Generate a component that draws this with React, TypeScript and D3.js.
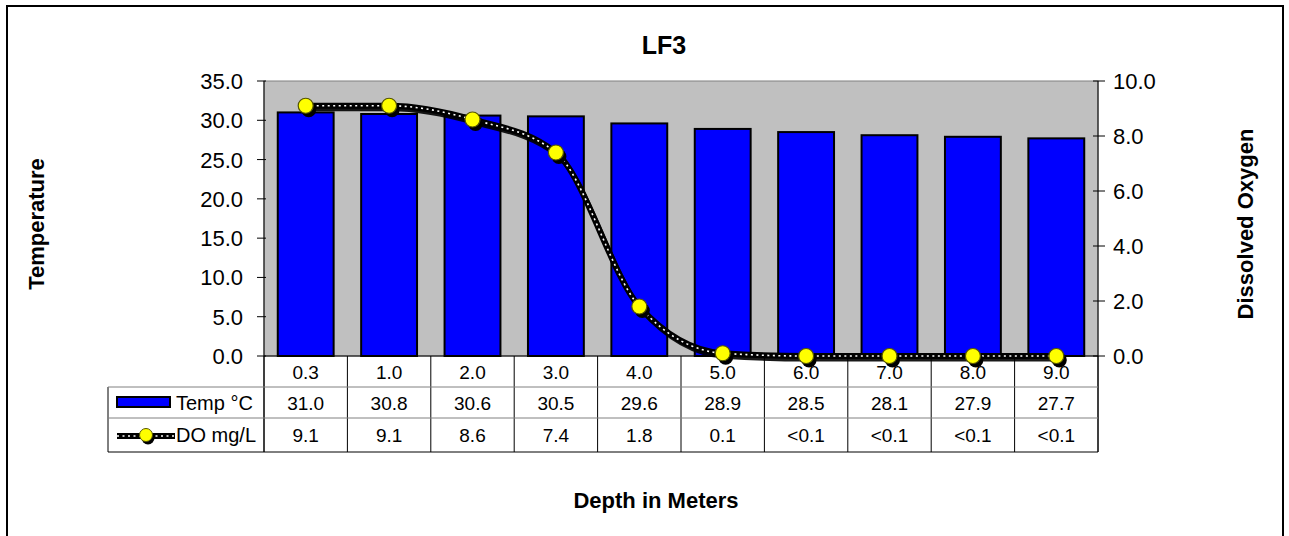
import React from "react";
import * as d3 from "d3";

const depths = ["0.3", "1.0", "2.0", "3.0", "4.0", "5.0", "6.0", "7.0", "8.0", "9.0"];
const tempValues = [31.0, 30.8, 30.6, 30.5, 29.6, 28.9, 28.5, 28.1, 27.9, 27.7];
const doValues = [9.1, 9.1, 8.6, 7.4, 1.8, 0.1, 0, 0, 0, 0];
const doLabels = ["9.1", "9.1", "8.6", "7.4", "1.8", "0.1", "<0.1", "<0.1", "<0.1", "<0.1"];
const leftTicks = [0, 5, 10, 15, 20, 25, 30, 35];
const rightTicks = [0, 2, 4, 6, 8, 10];

const W = 1289, H = 536;
const plotL = 264, plotR = 1098, plotT = 81, plotB = 356;
const row1B = 387, row2B = 418, row3B = 452, legendL = 108;
const FONT = "'Liberation Sans', Arial, sans-serif";

export default function App() {
  const x = d3.scaleBand<string>().domain(depths).range([plotL, plotR]).paddingInner(0.33).paddingOuter(0.165);
  const xc = d3.scaleBand<string>().domain(depths).range([plotL, plotR]);
  const yL = d3.scaleLinear().domain([0, 35]).range([plotB, plotT]);
  const yR = d3.scaleLinear().domain([0, 10]).range([plotB, plotT]);
  const cx = (d: string) => (xc(d) as number) + xc.bandwidth() / 2;
  const pts: [number, number][] = depths.map((d, i) => [cx(d), yR(doValues[i])]);
  const line = d3.line().curve(d3.curveMonotoneX);
  const path = line(pts) || "";
  const shadowPts: [number, number][] = pts.map(([a, b]) => [a + 2, b + 3]);
  const shadowPath = line(shadowPts) || "";
  const colEdges = depths.map((d) => xc(d) as number).concat([plotR]);
  const rowMid = (a: number, b: number) => (a + b) / 2 + 7;

  return (
    <svg width={W} height={H} style={{ position: "absolute", left: 0, top: 0, background: "#fff" }} fontFamily={FONT}>
      <rect x={7} y={6} width={1276} height={540} fill="#fff" stroke="#000" strokeWidth={2} />
      <text x={664} y={54} textAnchor="middle" fontSize={25} fontWeight="bold">LF3</text>

      {/* plot area */}
      <rect x={plotL} y={plotT} width={plotR - plotL} height={plotB - plotT} fill="#c0c0c0" stroke="#808080" strokeWidth={1} />

      {/* bars */}
      {depths.map((d, i) => (
        <rect key={d} x={x(d)} y={yL(tempValues[i])} width={x.bandwidth()} height={plotB - yL(tempValues[i])}
          fill="#0000ff" stroke="#000" strokeWidth={2} />
      ))}

      {/* axes */}
      <line x1={plotL} x2={plotL} y1={plotT} y2={row3B} stroke="#000" strokeWidth={1} />
      <line x1={plotR} x2={plotR} y1={plotT} y2={row3B} stroke="#000" strokeWidth={1} />
      <line x1={plotL} x2={plotR} y1={plotB} y2={plotB} stroke="#000" strokeWidth={1} />
      {leftTicks.map((t) => (
        <g key={"l" + t}>
          <line x1={plotL - 7} x2={plotL + 2} y1={yL(t)} y2={yL(t)} stroke="#000" />
          <text x={243} y={yL(t) + 8} textAnchor="end" fontSize={22}>{t.toFixed(1)}</text>
        </g>
      ))}
      {rightTicks.map((t) => (
        <g key={"r" + t}>
          <line x1={plotR - 5} x2={plotR + 7} y1={yR(t)} y2={yR(t)} stroke="#000" />
          <text x={1113} y={yR(t) + 8} textAnchor="start" fontSize={22}>{t.toFixed(1)}</text>
        </g>
      ))}

      {/* table */}
      {colEdges.map((e, i) => (
        <line key={"v" + i} x1={e} x2={e} y1={plotB} y2={row3B} stroke="#000" strokeWidth={1} />
      ))}
      <line x1={legendL} x2={legendL} y1={row1B} y2={row3B} stroke="#000" strokeWidth={1} />
      <line x1={legendL} x2={plotR} y1={row1B} y2={row1B} stroke="#808080" strokeWidth={1} />
      <line x1={legendL} x2={plotR} y1={row2B} y2={row2B} stroke="#808080" strokeWidth={1} />
      <line x1={legendL} x2={plotR} y1={row3B} y2={row3B} stroke="#000" strokeWidth={1} />
      {depths.map((d, i) => (
        <g key={"t" + d} fontSize={19} textAnchor="middle">
          <text x={cx(d)} y={rowMid(plotB, row1B)}>{d}</text>
          <text x={cx(d)} y={rowMid(row1B, row2B)}>{tempValues[i].toFixed(1)}</text>
          <text x={cx(d)} y={rowMid(row2B, row3B)}>{doLabels[i]}</text>
        </g>
      ))}

      {/* DO line */}
      <path d={shadowPath} fill="none" stroke="#000" strokeWidth={5} opacity={0.9} />
      <path d={path} fill="none" stroke="#000" strokeWidth={6} />
      <path d={path} fill="none" stroke="#fff" strokeWidth={1.6} strokeDasharray="2 3.5" />
      {pts.map(([a, b], i) => (
        <g key={"m" + i}>
          <circle cx={a + 3} cy={b + 4} r={7.5} fill="#000" />
          <circle cx={a} cy={b} r={7.5} fill="#ffff00" stroke="#555500" strokeWidth={1.2} />
        </g>
      ))}

      {/* legend */}
      <rect x={117} y={397} width={53} height={10} fill="#0000ff" stroke="#000" strokeWidth={2} />
      <text x={176} y={rowMid(row1B, row2B)} fontSize={20}>Temp °C</text>
      <line x1={117} x2={175} y1={436} y2={436} stroke="#000" strokeWidth={6} />
      <line x1={117} x2={175} y1={436} y2={436} stroke="#fff" strokeWidth={1.6} strokeDasharray="2 3.5" />
      <circle cx={148} cy={438} r={6.5} fill="#000" />
      <circle cx={146} cy={435} r={6.5} fill="#ffff00" stroke="#555500" strokeWidth={1} />
      <text x={176} y={rowMid(row2B, row3B)} fontSize={20}>DO mg/L</text>

      {/* axis titles */}
      <text transform={`translate(44,224) rotate(-90)`} textAnchor="middle" fontSize={22} fontWeight="bold">Temperature</text>
      <text transform={`translate(1253,224) rotate(-90)`} textAnchor="middle" fontSize={22} fontWeight="bold">Dissolved Oxygen</text>
      <text x={656} y={508} textAnchor="middle" fontSize={22} fontWeight="bold">Depth in Meters</text>
    </svg>
  );
}
